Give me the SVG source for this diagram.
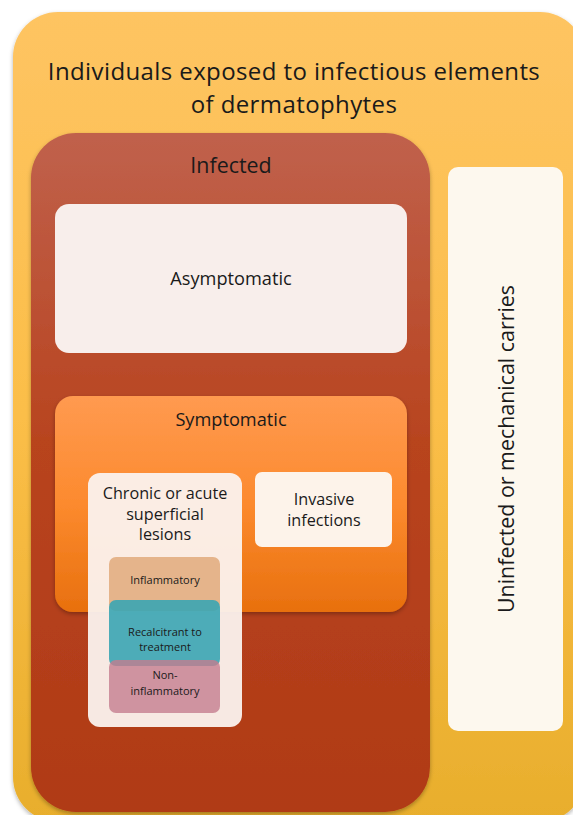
<svg xmlns="http://www.w3.org/2000/svg" width="573" height="815" viewBox="0 0 573 815">
<defs>
<linearGradient id="gOuter" x1="0" y1="0" x2="0" y2="1"><stop offset="0" stop-color="#FEC462"/><stop offset="0.5" stop-color="#FBBE48"/><stop offset="1" stop-color="#E8AE2C"/></linearGradient>
<linearGradient id="gInf" x1="0" y1="0" x2="0" y2="1"><stop offset="0" stop-color="#C0614C"/><stop offset="0.45" stop-color="#B8441F"/><stop offset="1" stop-color="#B03A16"/></linearGradient>
<linearGradient id="gSym" x1="0" y1="0" x2="0" y2="1"><stop offset="0" stop-color="#FF9A50"/><stop offset="0.5" stop-color="#FC8A2E"/><stop offset="1" stop-color="#E8700E"/></linearGradient>
<filter id="sh" x="-5%" y="-5%" width="110%" height="110%"><feDropShadow dx="0" dy="2" stdDeviation="2" flood-color="#000" flood-opacity="0.3"/></filter>
</defs>
<style>
text{font-family:"Open Sans","Noto Sans","Liberation Sans",sans-serif;fill:#1a1a1a;text-anchor:middle}
.t1{font-size:24px;letter-spacing:0.4px}
.t2{font-size:21.4px}
.t3{font-size:18.2px}
.t5{font-size:16.2px}
.t4{font-size:11px}
</style>
<rect width="573" height="815" fill="#ffffff"/>
<g id="outer">
<rect x="13" y="12" width="572" height="810" rx="45" fill="url(#gOuter)" filter="url(#sh)"/>
<text class="t1" x="294" y="80">Individuals exposed to infectious elements</text>
<text class="t1" x="294" y="113">of dermatophytes</text>
</g>
<g id="infected">
<rect x="31" y="133" width="399" height="679" rx="45" fill="url(#gInf)" filter="url(#sh)"/>
<text class="t2" x="231" y="173">Infected</text>
</g>
<g id="asymptomatic">
<rect x="55" y="204" width="352" height="149" rx="14" fill="#F8EEEB"/>
<text class="t3" x="231" y="285">Asymptomatic</text>
</g>
<g id="symptomatic">
<rect x="55" y="396" width="352" height="216" rx="18" fill="url(#gSym)" filter="url(#sh)"/>
<text class="t3" x="231" y="426">Symptomatic</text>
</g>
<g id="invasive">
<rect x="255" y="472" width="137" height="75" rx="7" fill="#FDF3EA"/>
<text class="t5" x="324" y="505">Invasive</text>
<text class="t5" x="324" y="526">infections</text>
</g>
<g id="chronic">
<rect x="88" y="473" width="154" height="254" rx="12" fill="#FBF2EE" fill-opacity="0.95"/>
<text class="t5" x="165" y="499">Chronic or acute</text>
<text class="t5" x="165" y="520">superficial</text>
<text class="t5" x="165" y="540">lesions</text>
</g>
<g id="inflammatory">
<rect x="109" y="557" width="111" height="54" rx="7" fill="#E5B48B"/>
<text class="t4" x="165" y="584">Inflammatory</text>
</g>
<g id="recalcitrant">
<rect x="109" y="600" width="111" height="66" rx="7" fill="#3AA5B3" fill-opacity="0.9"/>
<text class="t4" x="165" y="636">Recalcitrant to</text>
<text class="t4" x="165" y="651">treatment</text>
</g>
<g id="noninflammatory">
<rect x="109" y="660" width="111" height="53" rx="7" fill="#C47D8E" fill-opacity="0.8"/>
<text class="t4" x="165" y="679">Non-</text>
<text class="t4" x="165" y="695">inflammatory</text>
</g>
<g id="uninfected">
<rect x="448" y="167" width="115" height="564" rx="10" fill="#FDF8EE"/>
<text class="t2" transform="translate(514,449) rotate(-90)" x="0" y="0">Uninfected or mechanical carries</text>
</g>
<g id="connectors"></g>
</svg>
